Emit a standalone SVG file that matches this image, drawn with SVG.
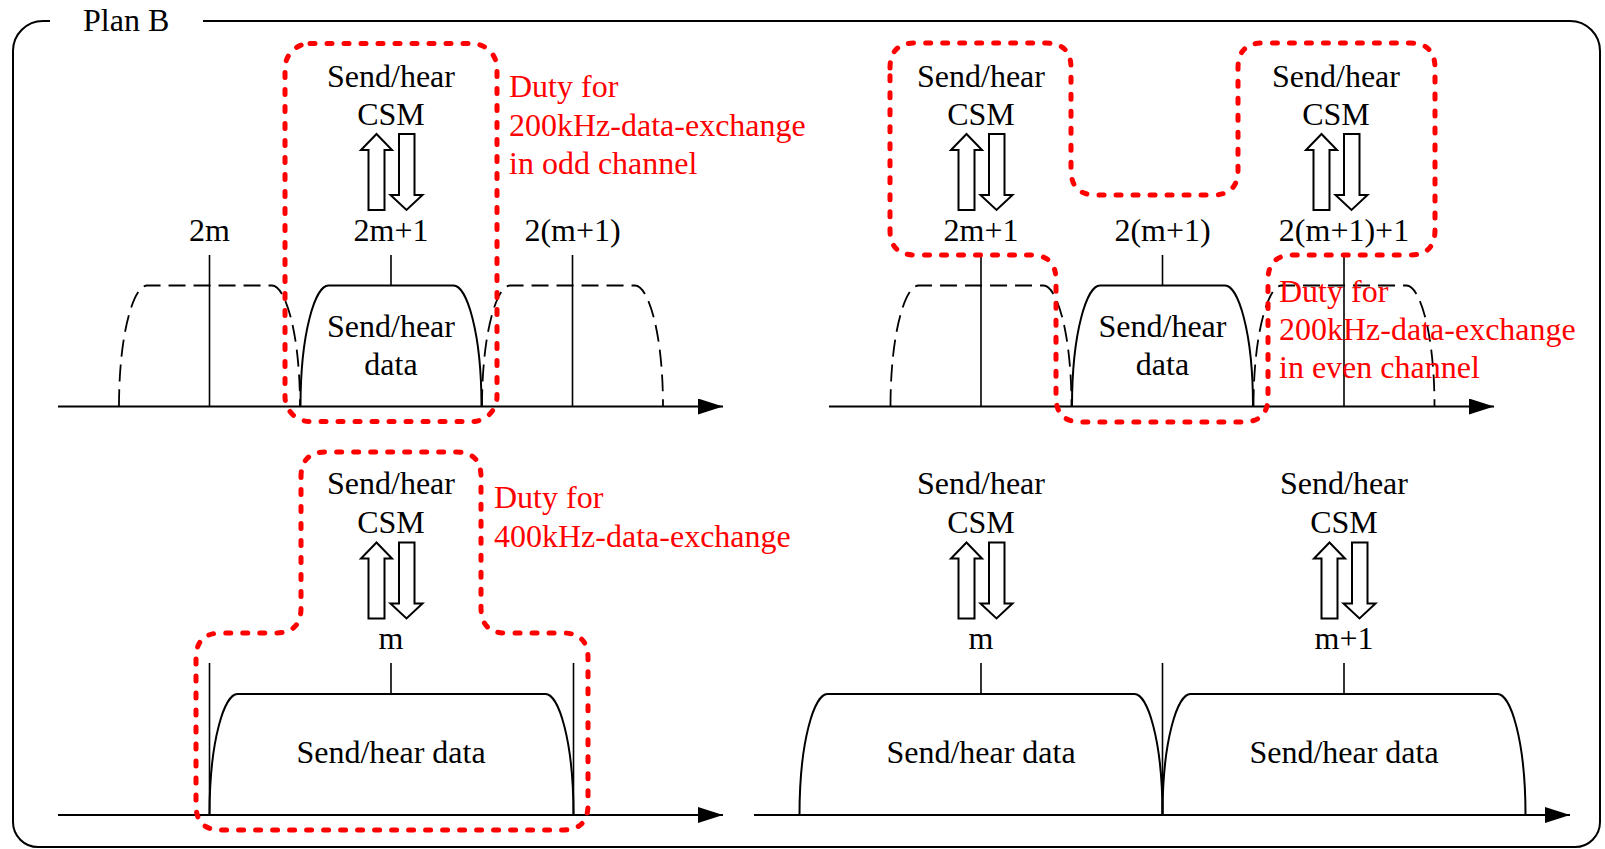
<svg xmlns="http://www.w3.org/2000/svg" xmlns:xlink="http://www.w3.org/1999/xlink" width="1605" height="849" viewBox="0 0 1605 849">
<style>
text{font-family:"Liberation Serif","Times New Roman",serif;font-size:32px;fill:#000}
.c{text-anchor:middle}
.red{fill:#ff0000}
.ln{stroke:#000;stroke-width:1.6;fill:none}
.ax{stroke:#000;stroke-width:2;fill:none}
.sh{stroke:#000;stroke-width:2;fill:none}
.dsh{stroke:#000;stroke-width:1.8;fill:none;stroke-dasharray:17 8}
.duty{stroke:#ff0000;stroke-width:5;fill:none;stroke-dasharray:5 12;stroke-linecap:round}
.arr{fill:#fff;stroke:#000;stroke-width:2;stroke-linejoin:miter}
</style>
<defs>
<marker id="axhead" markerUnits="userSpaceOnUse" markerWidth="26" markerHeight="18" refX="25" refY="8" orient="auto">
<path d="M0,0 L25,8 L0,16 Z" fill="#000"/>
</marker>
<path id="upArr" d="M-22.5,76 L-22.5,16 L-30,16 L-14.5,0 L1,16 L-6.5,16 L-6.5,76 Z"/>
<path id="dnArr" d="M8,0 L23.5,0 L23.5,61 L31.5,61 L15.5,76 L-0.5,61 L8,61 Z"/>
</defs>

<g id="frame">
<path class="sh" d="M50,21 L43,21 A30,30 0 0 0 13,51 L13,822 A25,25 0 0 0 38,847 L1575,847 A25,25 0 0 0 1600,822 L1600,51 A30,30 0 0 0 1570,21 L203,21"/>
<text x="83" y="31">Plan B</text>
</g>

<g id="panel-odd">
<g id="odd-spectrum">
<path class="dsh" d="M119,406.5 C119,331.5 134,285.5 147,285.5 L272,285.5 C285,285.5 300,331.5 300,406.5"/>
<path class="sh" d="M300.5,406.5 C300.5,331.5 315.5,285.5 328.5,285.5 L453.5,285.5 C466.5,285.5 481.5,331.5 481.5,406.5"/>
<path class="dsh" d="M482,406.5 C482,331.5 497,285.5 510,285.5 L635,285.5 C648,285.5 663,331.5 663,406.5"/>
<line class="ln" x1="209.5" y1="255" x2="209.5" y2="406.5"/>
<line class="ln" x1="391" y1="255" x2="391" y2="285.5"/>
<line class="ln" x1="572.5" y1="255" x2="572.5" y2="406.5"/>
<line class="ax" x1="58" y1="406.5" x2="723" y2="406.5" marker-end="url(#axhead)"/>
</g>
<text class="c" x="391" y="87">Send/hear</text>
<text class="c" x="391" y="125">CSM</text>
<text class="c" x="209.5" y="241">2m</text>
<text class="c" x="391" y="241">2m+1</text>
<text class="c" x="572.5" y="241">2(m+1)</text>
<text class="c" x="391" y="337">Send/hear</text>
<text class="c" x="391" y="375">data</text>
<rect id="duty-odd" class="duty" x="285" y="43.5" width="212" height="378" rx="25" ry="25"/>
<text class="red" x="509" y="97">Duty for</text>
<text class="red" x="509" y="136">200kHz-data-exchange</text>
<text class="red" x="509" y="174">in odd channel</text>
</g>

<g id="panel-even">
<g id="even-spectrum">
<path class="dsh" d="M890.5,406.5 C890.5,331.5 905.5,285.5 918.5,285.5 L1043.5,285.5 C1056.5,285.5 1071.5,331.5 1071.5,406.5"/>
<path class="sh" d="M1072,406.5 C1072,331.5 1087,285.5 1100,285.5 L1225,285.5 C1238,285.5 1253,331.5 1253,406.5"/>
<path class="dsh" d="M1253.5,406.5 C1253.5,331.5 1268.5,285.5 1281.5,285.5 L1406.5,285.5 C1419.5,285.5 1434.5,331.5 1434.5,406.5"/>
<line class="ln" x1="981" y1="255" x2="981" y2="406.5"/>
<line class="ln" x1="1162.5" y1="255" x2="1162.5" y2="285.5"/>
<line class="ln" x1="1344" y1="255" x2="1344" y2="406.5"/>
<line class="ax" x1="829" y1="406.5" x2="1494" y2="406.5" marker-end="url(#axhead)"/>
</g>
<text class="c" x="981" y="87">Send/hear</text>
<text class="c" x="981" y="125">CSM</text>
<text class="c" x="1336" y="87">Send/hear</text>
<text class="c" x="1336" y="125">CSM</text>
<text class="c" x="981" y="241">2m+1</text>
<text class="c" x="1162.5" y="241">2(m+1)</text>
<text class="c" x="1344" y="241">2(m+1)+1</text>
<text class="c" x="1162.5" y="337">Send/hear</text>
<text class="c" x="1162.5" y="375">data</text>
<path id="duty-even" class="duty" d="M890,68 Q890,43 915,43 L1046,43 Q1071,43 1071,68 L1071,170 Q1071,195 1096,195 L1213,195 Q1238,195 1238,170 L1238,68 Q1238,43 1263,43 L1410,43 Q1435,43 1435,68 L1435,230 Q1435,255 1410,255 L1293,255 Q1268,255 1268,280 L1268,397 Q1268,422 1243,422 L1081,422 Q1056,422 1056,397 L1056,280 Q1056,255 1031,255 L915,255 Q890,255 890,230 Z"/>
<text class="red" x="1279" y="302">Duty for</text>
<text class="red" x="1279" y="340">200kHz-data-exchange</text>
<text class="red" x="1279" y="378">in even channel</text>
</g>

<g id="panel-400k">
<g id="wide-spectrum">
<path class="sh" d="M209.5,815 C209.5,740 224.5,694 237.5,694 L545.5,694 C558.5,694 573.5,740 573.5,815"/>
<line class="ln" x1="209.5" y1="663" x2="209.5" y2="815"/>
<line class="ln" x1="391" y1="663" x2="391" y2="694"/>
<line class="ln" x1="573.5" y1="663" x2="573.5" y2="815"/>
<line class="ax" x1="58" y1="815" x2="723" y2="815" marker-end="url(#axhead)"/>
</g>
<text class="c" x="391" y="494">Send/hear</text>
<text class="c" x="391" y="533">CSM</text>
<text class="c" x="391" y="649">m</text>
<text class="c" x="391" y="763">Send/hear data</text>
<path id="duty-400k" class="duty" d="M301,477 Q301,452 326,452 L456,452 Q481,452 481,477 L481,608 Q481,633 506,633 L563,633 Q588,633 588,658 L588,805 Q588,830 563,830 L221,830 Q196,830 196,805 L196,658 Q196,633 221,633 L276,633 Q301,633 301,608 Z"/>
<text class="red" x="494" y="508">Duty for</text>
<text class="red" x="494" y="547">400kHz-data-exchange</text>
</g>

<g id="panel-two-wide">
<g id="two-wide-spectrum">
<path class="sh" d="M799.5,815 C799.5,740 814.5,694 827.5,694 L1134.5,694 C1147.5,694 1162.5,740 1162.5,815"/>
<path class="sh" d="M1162.5,815 C1162.5,740 1177.5,694 1190.5,694 L1497.5,694 C1510.5,694 1525.5,740 1525.5,815"/>
<line class="ln" x1="981" y1="663" x2="981" y2="694"/>
<line class="ln" x1="1162.5" y1="663" x2="1162.5" y2="815"/>
<line class="ln" x1="1344" y1="663" x2="1344" y2="694"/>
<line class="ax" x1="754" y1="815" x2="1570" y2="815" marker-end="url(#axhead)"/>
</g>
<text class="c" x="981" y="494">Send/hear</text>
<text class="c" x="981" y="533">CSM</text>
<text class="c" x="1344" y="494">Send/hear</text>
<text class="c" x="1344" y="533">CSM</text>
<text class="c" x="981" y="649">m</text>
<text class="c" x="1344" y="649">m+1</text>
<text class="c" x="981" y="763">Send/hear data</text>
<text class="c" x="1344" y="763">Send/hear data</text>
</g>

<g id="connectors">
<use xlink:href="#upArr" class="arr" x="391" y="134"/>
<use xlink:href="#dnArr" class="arr" x="391" y="134"/>
<use xlink:href="#upArr" class="arr" x="981" y="134"/>
<use xlink:href="#dnArr" class="arr" x="981" y="134"/>
<use xlink:href="#upArr" class="arr" x="1336" y="134"/>
<use xlink:href="#dnArr" class="arr" x="1336" y="134"/>
<use xlink:href="#upArr" class="arr" x="391" y="542.5"/>
<use xlink:href="#dnArr" class="arr" x="391" y="542.5"/>
<use xlink:href="#upArr" class="arr" x="981" y="542.5"/>
<use xlink:href="#dnArr" class="arr" x="981" y="542.5"/>
<use xlink:href="#upArr" class="arr" x="1344" y="542.5"/>
<use xlink:href="#dnArr" class="arr" x="1344" y="542.5"/>
</g>
</svg>
